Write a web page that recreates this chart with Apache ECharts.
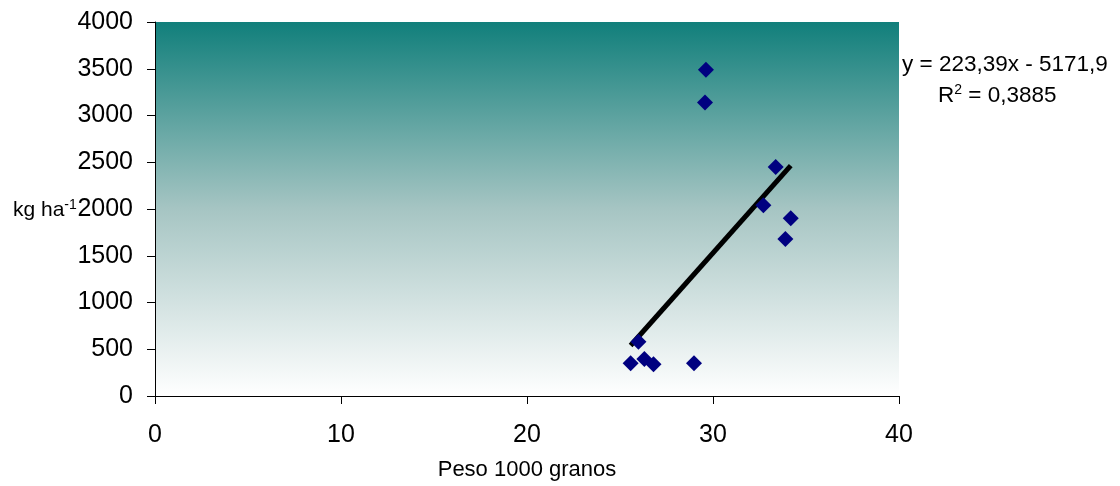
<!DOCTYPE html>
<html lang="es">
<head>
    <meta charset="UTF-8">
    <title>Peso 1000 granos vs rendimiento</title>
    <script src="https://cdn.jsdelivr.net/npm/echarts@6/dist/echarts.min.js"></script>
    <style>
        html, body { margin: 0; padding: 0; background: #fff; }
    </style>
</head>
<body>
<div id="main" style="width:1120px;height:486px;"></div>
<script>
    // datos
    var pesoGranos = [29.62, 29.57, 33.37, 32.71, 34.18, 33.89, 25.99, 25.57, 26.31, 26.8, 28.98];
    var rendimiento = [3490, 3140, 2450, 2040, 1900, 1680, 580, 350, 395, 340, 350];
    var xTicks = [0, 10, 20, 30, 40];
    var yTicks = [0, 500, 1000, 1500, 2000, 2500, 3000, 3500, 4000];
    var pendiente = 223.39;
    var intercepto = -5171.9;
    var r2 = '0,3885';

    var puntos = pesoGranos.map(function (x, i) { return [x, rendimiento[i]]; });
    var xMin = Math.min.apply(null, pesoGranos);
    var xMax = Math.max.apply(null, pesoGranos);
    var tendencia = [
        [xMin, pendiente * xMin + intercepto],
        [xMax, pendiente * xMax + intercepto]
    ];

    var fuente = 'Liberation Sans';
    var myChart = echarts.init(document.getElementById('main'));

    var option = {
        animation: false,
        grid: {
            left: 155,
            top: 22,
            right: 221,
            bottom: 89,
            show: true,
            borderWidth: 0,
            backgroundColor: new echarts.graphic.LinearGradient(0, 0, 0, 1, [
                {offset: 0, color: '#117f7b'},
                {offset: 0.5, color: '#a6c5c3'},
                {offset: 1, color: '#ffffff'}
            ])
        },
        xAxis: {
            type: 'value',
            min: xTicks[0],
            max: xTicks[xTicks.length - 1],
            interval: 10,
            name: 'Peso 1000 granos',
            nameLocation: 'middle',
            nameGap: 63,
            nameTextStyle: {fontFamily: fuente, fontSize: 22, color: '#000'},
            axisLine: {onZero: false, lineStyle: {color: '#000', width: 1}},
            axisTick: {inside: false, length: 8, lineStyle: {color: '#000'}},
            axisLabel: {fontFamily: fuente, fontSize: 25, color: '#000', margin: 27},
            splitLine: {show: false}
        },
        yAxis: {
            type: 'value',
            min: yTicks[0],
            max: yTicks[yTicks.length - 1],
            interval: 500,
            axisLine: {show: true, lineStyle: {color: '#000', width: 1}},
            axisTick: {show: true, length: 8, lineStyle: {color: '#000'}},
            axisLabel: {
                fontFamily: fuente, fontSize: 25, color: '#000', margin: 22,
                formatter: function (v) { return String(v); }
            },
            splitLine: {show: false}
        },
        graphic: [
            {
                type: 'text',
                left: 13,
                top: 198,
                style: {
                    text: '{a|kg ha}{s|-1}',
                    rich: {
                        a: {fontFamily: fuente, fontSize: 21, lineHeight: 24, fill: '#000'},
                        s: {fontFamily: fuente, fontSize: 14, lineHeight: 14, fill: '#000', verticalAlign: 'top'}
                    }
                }
            },
            {
                type: 'text',
                left: 902,
                top: 53,
                style: {
                    text: 'y = ' + String(pendiente).replace('.', ',') + 'x - ' + String(-intercepto).replace('.', ','),
                    fontFamily: fuente,
                    fontSize: 22.5,
                    fill: '#000'
                }
            },
            {
                type: 'text',
                left: 938,
                top: 83,
                style: {
                    text: '{a|R}{s|2}{a| = ' + r2 + '}',
                    rich: {
                        a: {fontFamily: fuente, fontSize: 22.5, lineHeight: 26, fill: '#000'},
                        s: {fontFamily: fuente, fontSize: 14, lineHeight: 14, fill: '#000', verticalAlign: 'top'}
                    }
                }
            }
        ],
        series: [
            {
                type: 'line',
                data: tendencia,
                showSymbol: false,
                symbol: 'none',
                lineStyle: {color: '#000', width: 5},
                z: 2
            },
            {
                type: 'scatter',
                data: puntos,
                symbol: 'diamond',
                symbolSize: 16,
                itemStyle: {color: '#000080', opacity: 1},
                z: 3
            }
        ]
    };

    myChart.setOption(option);
</script>
</body>
</html>
